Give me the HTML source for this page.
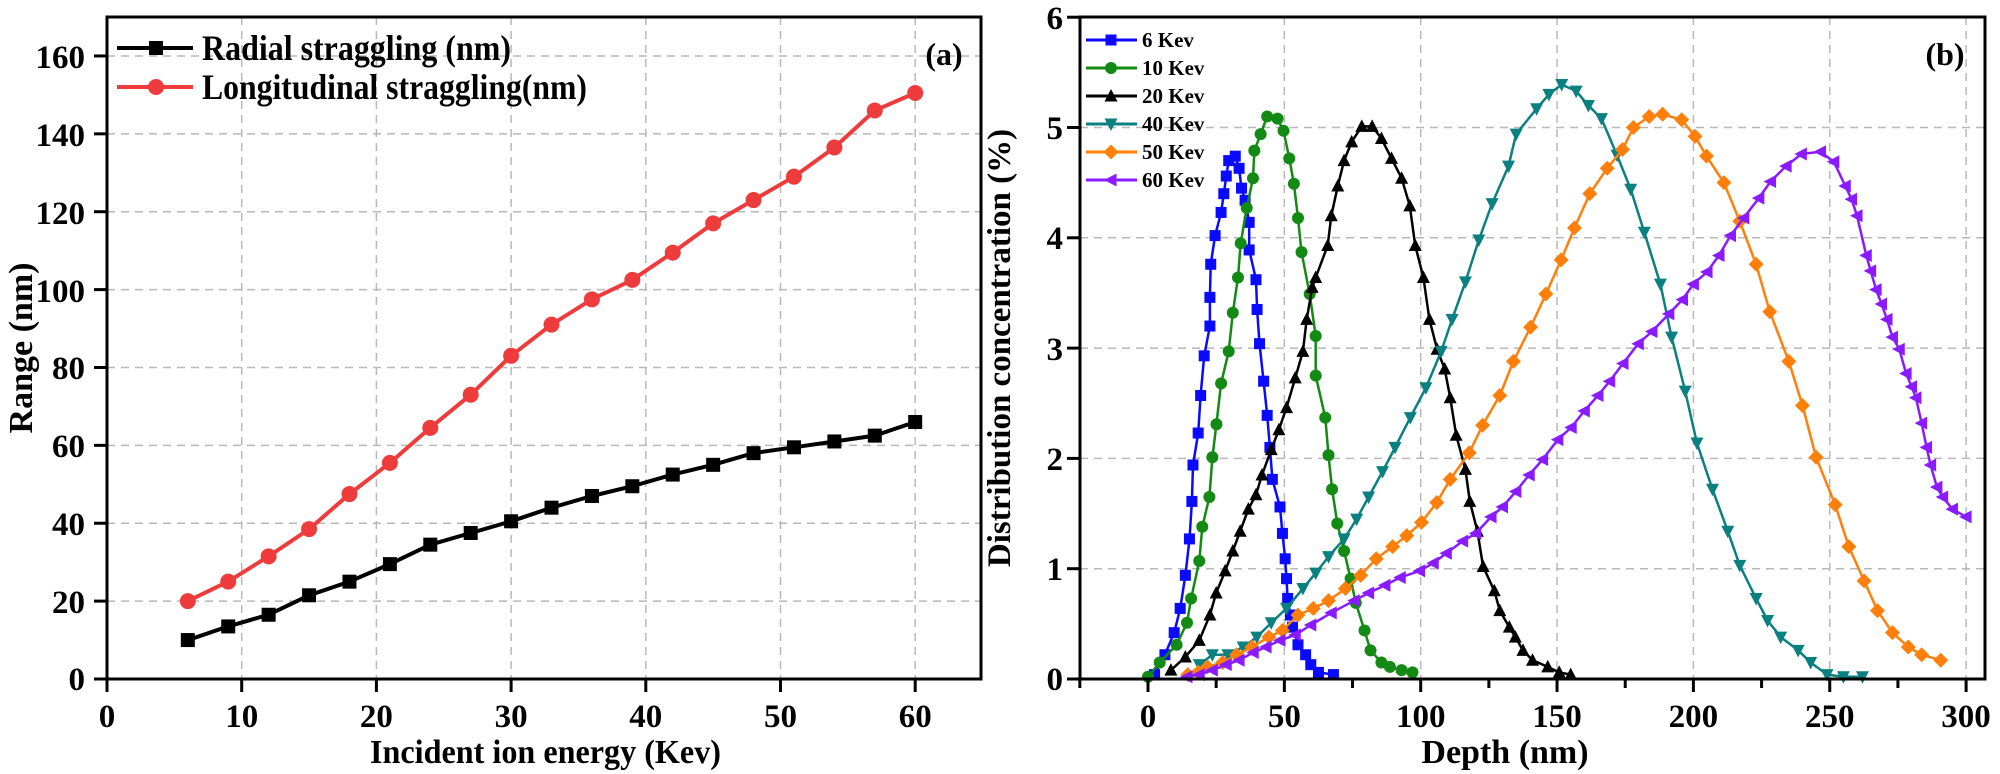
<!DOCTYPE html>
<html><head><meta charset="utf-8"><style>
html,body{margin:0;padding:0;background:#fff;}
svg{display:block;}
text{font-family:"Liberation Serif",serif;font-weight:bold;fill:#000;}
</style></head><body>
<svg id="s" width="2000" height="774" viewBox="0 0 2000 774" xmlns="http://www.w3.org/2000/svg">
<defs>
<rect id="sqA" x="-7" y="-7" width="14" height="14"/>
<circle id="ciA" r="8"/>
<rect id="sqB" x="-5.5" y="-5.5" width="11" height="11"/>
<circle id="ciB" r="6"/>
<polygon id="upB" points="0,-7 6.5,5.5 -6.5,5.5"/>
<polygon id="dnB" points="0,7 6.5,-5.5 -6.5,-5.5"/>
<polygon id="diB" points="0,-7.5 7.5,0 0,7.5 -7.5,0"/>
<polygon id="ltB" points="-7,0 5.5,-6.5 5.5,6.5"/>
</defs>
<g id="grid" stroke="#b8b8b8" stroke-width="1.5" stroke-dasharray="8,6" fill="none"></g>
<g id="series"></g>
<g id="axes" stroke="#000" fill="none"></g>

<!-- Panel a labels -->
<g font-size="33" text-anchor="end">
<text x="85" y="690">0</text><text x="85" y="613">20</text><text x="85" y="535">40</text>
<text x="85" y="457">60</text><text x="85" y="379">80</text><text x="85" y="302">100</text>
<text x="85" y="224">120</text><text x="85" y="146">140</text><text x="85" y="68">160</text>
</g>
<g font-size="33" text-anchor="middle">
<text x="107" y="727">0</text><text x="241.7" y="727">10</text><text x="376.4" y="727">20</text>
<text x="511.1" y="727">30</text><text x="645.8" y="727">40</text><text x="780.5" y="727">50</text>
<text x="915.2" y="727">60</text>
</g>
<text x="370" y="763" font-size="34" textLength="351" lengthAdjust="spacingAndGlyphs">Incident ion energy (Kev)</text>
<text transform="translate(32,348) rotate(-90)" font-size="34" text-anchor="middle">Range (nm)</text>
<text x="944" y="65" font-size="32" text-anchor="middle">(a)</text>
<text x="202" y="60" font-size="36" textLength="309" lengthAdjust="spacingAndGlyphs">Radial straggling (nm)</text>
<text x="202" y="99" font-size="36" textLength="385" lengthAdjust="spacingAndGlyphs">Longitudinal straggling(nm)</text>

<!-- Panel b labels -->
<g font-size="33" text-anchor="end">
<text x="1063" y="690">0</text><text x="1063" y="580">1</text><text x="1063" y="470">2</text>
<text x="1063" y="360">3</text><text x="1063" y="249">4</text><text x="1063" y="139">5</text>
<text x="1063" y="29">6</text>
</g>
<g font-size="33" text-anchor="middle">
<text x="1148" y="727">0</text><text x="1284.4" y="727">50</text><text x="1420.7" y="727">100</text>
<text x="1557" y="727">150</text><text x="1693.4" y="727">200</text><text x="1829.8" y="727">250</text>
<text x="1966" y="727">300</text>
</g>
<text x="1505" y="763" font-size="34" text-anchor="middle">Depth (nm)</text>
<text transform="translate(1010,348) rotate(-90)" font-size="33" text-anchor="middle">Distribution concentration (%)</text>
<text x="1945" y="65" font-size="32" text-anchor="middle">(b)</text>
<g font-size="21">
<text x="1142" y="47">6 Kev</text><text x="1142" y="75">10 Kev</text><text x="1142" y="103">20 Kev</text>
<text x="1142" y="131">40 Kev</text><text x="1142" y="159">50 Kev</text><text x="1142" y="187">60 Kev</text>
</g>
</svg>
<script>
(function(){
var NS="http://www.w3.org/2000/svg";
function el(p,n,a){var e=document.createElementNS(NS,n);for(var k in a)e.setAttribute(k,a[k]);p.appendChild(e);return e;}
var grid=document.getElementById('grid'),ser=document.getElementById('series'),ax=document.getElementById('axes');
function XA(v){return 107+v*13.47;} function YA(v){return 679-v*3.894;}
function XB(d){return 1148+d*2.727;} function YB(c){return 679-c*110.3;}
for(var v=10;v<=60;v+=10)el(grid,'line',{x1:XA(v),x2:XA(v),y1:17,y2:679});
for(var v=20;v<=160;v+=20)el(grid,'line',{x1:107,x2:981,y1:YA(v),y2:YA(v)});
for(var d=50;d<=300;d+=50)el(grid,'line',{x1:XB(d),x2:XB(d),y1:17,y2:679});
for(var c=1;c<=5;c++)el(grid,'line',{x1:1080,x2:1985,y1:YB(c),y2:YB(c)});
el(ax,'rect',{x:107,y:17,width:874,height:662,'stroke-width':3});
el(ax,'rect',{x:1080,y:17,width:905,height:662,'stroke-width':3});
for(var v=0;v<=60;v+=10)el(ax,'line',{x1:XA(v),x2:XA(v),y1:679,y2:692,'stroke-width':3});
for(var v=0;v<=160;v+=20)el(ax,'line',{x1:94,x2:107,y1:YA(v),y2:YA(v),'stroke-width':3});
for(var d=-25;d<=300;d+=25)el(ax,'line',{x1:XB(d),x2:XB(d),y1:679,y2:(d%50==0?692:688),'stroke-width':3});
for(var c=0;c<=6;c++)el(ax,'line',{x1:1067,x2:1080,y1:YB(c),y2:YB(c),'stroke-width':3});
function plot(pts,X,Y,col,lw,mk){
 var s=pts.map(function(p){return X(p[0]).toFixed(1)+','+Y(p[1]).toFixed(1);}).join(' ');
 el(ser,'polyline',{points:s,fill:'none',stroke:col,'stroke-width':lw,'stroke-linejoin':'round'});
 pts.forEach(function(p){el(ser,'use',{href:'#'+mk,x:X(p[0]),y:Y(p[1]),fill:col});});
}
var ex=[6,9,12,15,18,21,24,27,30,33,36,39,42,45,48,51,54,57,60];
var rad=[10,13.5,16.5,21.5,25,29.5,34.5,37.5,40.5,44,47,49.5,52.5,55,58,59.5,61,62.5,66];
var lon=[20,25,31.5,38.5,47.5,55.5,64.5,73,83,91,97.5,102.5,109.5,117,123,129,136.5,146,150.5];
plot(ex.map(function(x,i){return [x,rad[i]];}),XA,YA,'#000',4,'sqA');
plot(ex.map(function(x,i){return [x,lon[i]];}),XA,YA,'#ee3b3b',4,'ciA');
el(ser,'line',{x1:117,x2:193,y1:48,y2:48,stroke:'#000','stroke-width':4});el(ser,'use',{href:'#sqA',x:156,y:48,fill:'#000'});
el(ser,'line',{x1:117,x2:193,y1:87,y2:87,stroke:'#ee3b3b','stroke-width':4});el(ser,'use',{href:'#ciA',x:156,y:87,fill:'#ee3b3b'});
function P(a){var r=[];for(var i=0;i<a.length;i+=2)r.push([a[i],a[i+1]]);return r;}
var k6=P([2.4,0.04,6.2,0.22,9.6,0.42,11.8,0.64,13.7,0.94,15.2,1.27,16.1,1.61,16.5,1.94,18.4,2.23,19.3,2.57,20.6,2.93,22.7,3.2,22.7,3.46,23,3.76,24.6,4.02,26.8,4.23,27.8,4.4,28.7,4.56,29.6,4.7,32,4.74,33.4,4.63,34.3,4.45,35.6,4.34,37.1,4.14,37.1,3.89,39.6,3.62,40,3.35,40.9,3.04,42.4,2.7,43.7,2.39,44.7,2.1,45.6,1.81,48.4,1.56,49.3,1.32,50.3,1.09,50.8,0.91,51.2,0.73,52.2,0.58,53,0.47,55,0.31,57.8,0.22,59.7,0.13,62.5,0.06,68,0.04]);
var k10=P([0,0.02,4.3,0.15,10.5,0.31,14.3,0.51,15.8,0.73,18.8,1.07,19.9,1.38,22.5,1.65,23.6,2.01,25.1,2.31,26.8,2.68,29.6,2.97,31.1,3.32,33,3.64,34,3.95,36.2,4.27,38.5,4.54,39,4.79,41.3,4.94,43.7,5.1,47.5,5.08,49.7,4.97,51.8,4.72,53.5,4.49,55,4.18,56.3,3.87,59.3,3.49,61.5,3.11,61.5,2.75,65,2.37,66.2,2.03,67.5,1.72,69.4,1.41,71.9,1.16,74.3,0.91,76.2,0.69,79.4,0.44,81.6,0.26,85.6,0.15,88.7,0.11,93,0.08,97,0.06]);
var k20=P([8.4,0.08,13.7,0.2,18.8,0.35,22.7,0.58,25,0.78,28.3,0.98,31.1,1.16,33.8,1.34,36.8,1.54,39.6,1.67,41.8,1.85,45.2,2.08,48,2.26,50.8,2.46,54,2.73,56.8,2.97,58.2,3.26,60.2,3.55,61.5,3.64,65.9,3.93,67.2,4.2,69.6,4.47,71.9,4.7,74.7,4.87,78.4,5.01,82.2,5.01,85.6,4.9,89.3,4.72,93,4.54,96,4.29,98,3.93,101,3.64,103.2,3.26,106,2.99,108.8,2.81,110.8,2.55,113,2.21,116.4,1.9,118,1.61,120.8,1.34,122.9,1.02,127,0.8,129,0.62,132.5,0.47,134.7,0.38,137.5,0.26,141,0.17,146.6,0.11,150.8,0.06,155,0.04]);
var k40=P([18.8,0.13,23.6,0.22,29.3,0.22,34.9,0.29,39.9,0.38,45.2,0.51,50.8,0.64,56.8,0.82,61.5,0.96,66.2,1.11,71.9,1.27,76.5,1.45,80.9,1.65,86,1.88,90.6,2.1,96.2,2.37,101.9,2.64,107.5,2.97,111.5,3.26,116.4,3.6,121.3,3.98,126.2,4.31,132.2,4.65,135,4.94,142.5,5.17,147,5.3,151.7,5.39,157,5.33,161.5,5.2,166.3,5.08,172,4.75,177,4.44,182,4.05,187.9,3.58,192,3.1,197,2.61,201.3,2.14,207,1.72,212.6,1.34,217,1.03,223,0.73,227.2,0.53,232,0.38,238.4,0.26,243,0.15,249,0.04,255,0.02,262,0.02]);
var k50=P([14.6,0.04,18.4,0.06,21.8,0.11,27.4,0.15,32.5,0.22,38.1,0.29,44.3,0.38,49.3,0.44,55,0.58,60.6,0.64,66.2,0.71,72.4,0.82,78,0.94,83.7,1.09,89.7,1.2,94.9,1.3,100.3,1.42,105.9,1.6,110.8,1.81,117.8,2.05,122.7,2.3,129,2.57,134,2.88,140.3,3.19,145.9,3.49,151.5,3.8,156.4,4.09,162,4.4,168.4,4.63,174,4.8,178,5.0,183.8,5.1,188.7,5.12,195.7,5.07,200.6,4.92,204.8,4.74,211.2,4.5,217,4.15,223,3.76,228,3.33,235,2.88,240,2.48,245,2.01,252,1.58,257,1.2,262.6,0.89,267.5,0.62,273,0.42,278.8,0.29,283.7,0.22,290.7,0.17]);
var k60=P([14.3,0.02,18.8,0.04,23.6,0.08,28.7,0.13,33.4,0.17,38.6,0.24,43.3,0.29,48.4,0.35,54,0.4,59.7,0.49,67.2,0.6,75.6,0.71,80.9,0.78,86.9,0.85,92.5,0.92,99.6,0.98,104.6,1.05,109.4,1.14,115.4,1.25,120.2,1.32,125.8,1.47,130,1.56,134.9,1.7,139.8,1.85,144.7,1.99,150.3,2.17,155.2,2.28,160,2.43,165,2.57,169.3,2.7,174.2,2.86,179.8,3.04,184.8,3.15,191,3.31,196,3.44,200,3.58,205,3.69,209.4,3.84,213.6,4.02,218.5,4.18,224,4.36,228.3,4.51,234,4.65,239.6,4.76,246.6,4.78,251.5,4.69,255.7,4.47,258,4.35,260,4.2,263.4,3.84,265,3.7,267,3.53,269,3.4,271,3.26,273,3.1,275.5,2.99,278,2.77,280,2.65,281.6,2.55,283.7,2.32,285.5,2.1,287,1.94,289.3,1.74,291.4,1.65,295,1.54,300,1.47]);
var S=[[k6,'#0a0aff','sqB'],[k10,'#138a13','ciB'],[k20,'#000','upB'],[k40,'#0a8080','dnB'],[k50,'#ff7f0a','diB'],[k60,'#8a1aff','ltB']];
S.forEach(function(s,i){
 plot(s[0],XB,YB,s[1],2.5,s[2]);
 var y=40+i*28;
 el(ser,'line',{x1:1086,x2:1137,y1:y,y2:y,stroke:s[1],'stroke-width':3});
 el(ser,'use',{href:'#'+s[2],x:1111,y:y,fill:s[1]});
});
})();
</script>
</body></html>
